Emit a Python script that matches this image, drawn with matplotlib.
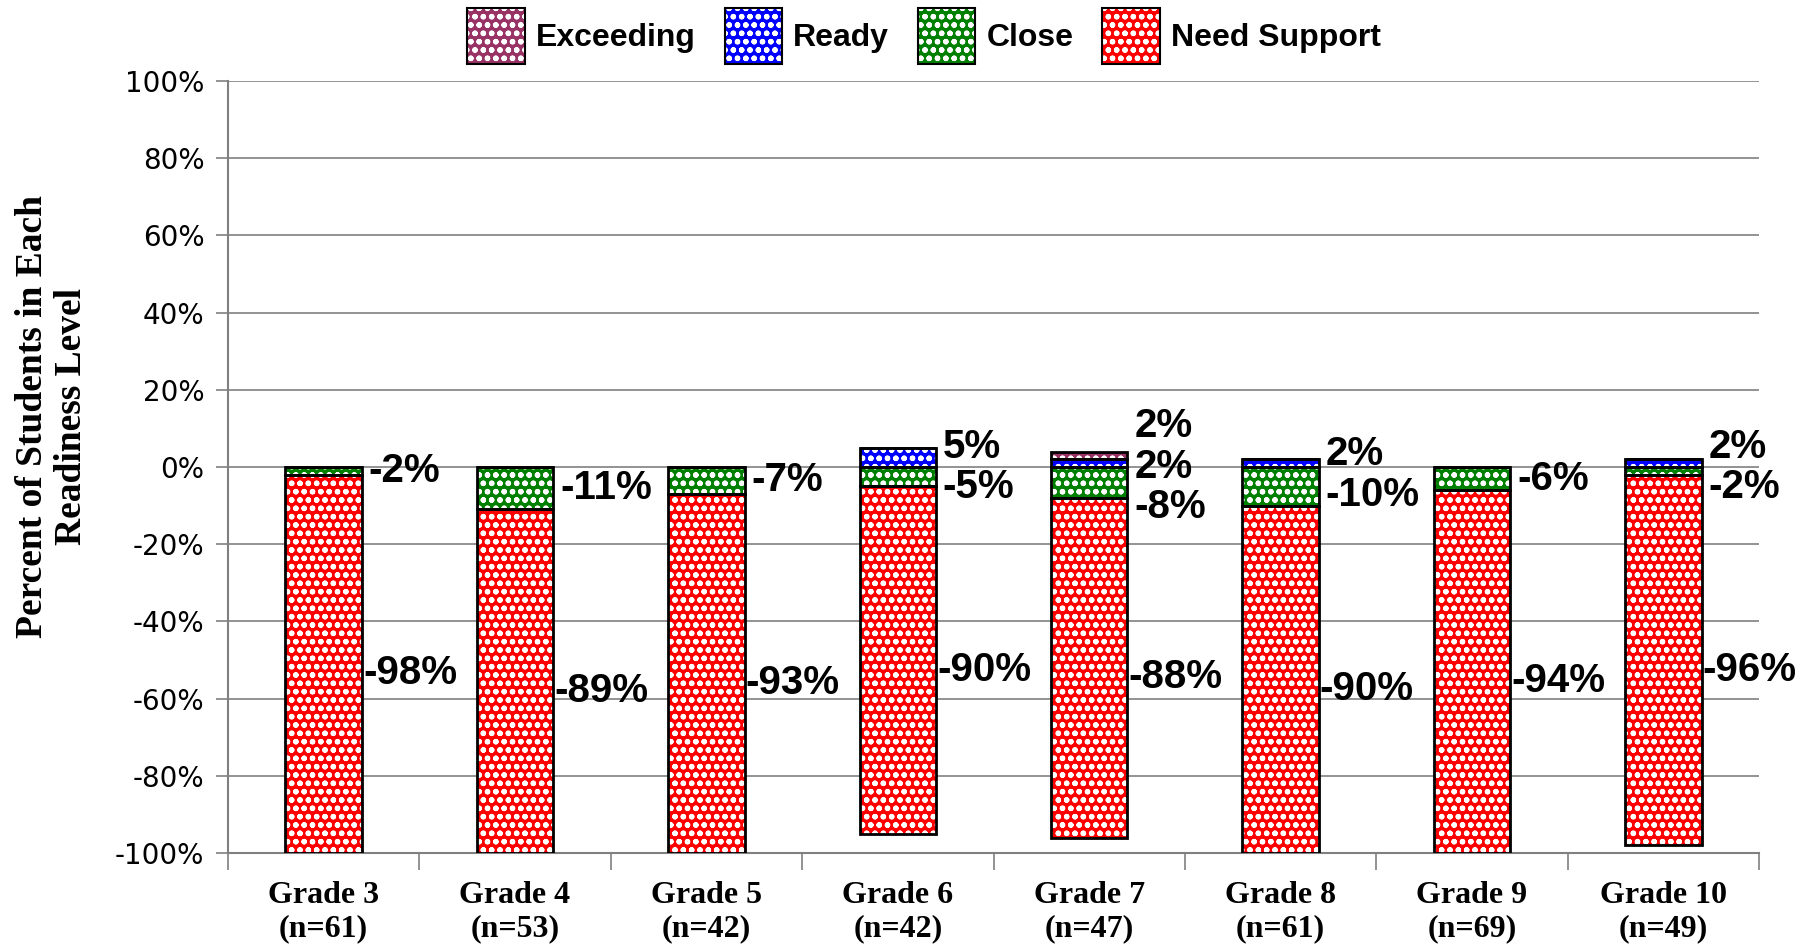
import numpy as np
import matplotlib
matplotlib.use('Agg')
import matplotlib.pyplot as plt
from matplotlib.patches import Patch
from matplotlib.legend_handler import HandlerTuple

# ---Datos---
grados = ['Grade 3', 'Grade 4', 'Grade 5', 'Grade 6', 'Grade 7', 'Grade 8', 'Grade 9', 'Grade 10']
n_alumnos = [61, 53, 42, 42, 47, 61, 69, 49]
exceeding = [0, 0, 0, 0, 2, 0, 0, 0]
ready = [0, 0, 0, 5, 2, 2, 0, 2]
close = [-2, -11, -7, -5, -8, -10, -6, -2]
need_support = [-98, -89, -93, -90, -88, -90, -94, -96]
yticks = [-100, -80, -60, -40, -20, 0, 20, 40, 60, 80, 100]

colores = {'Exceeding': '#993366', 'Ready': '#0000ff', 'Close': '#008000', 'Need Support': '#ff0000'}
patron = 'oo'
plt.rcParams['hatch.linewidth'] = 1.6

fig = plt.figure(figsize=(18.12, 9.52), dpi=100)
ax = fig.add_axes([0.1258, 0.104, 0.845, 0.811])

x = np.arange(len(grados)) + 0.5
ancho = 0.4

def barra(valores, base, nombre):
    # relleno con patron y despues el borde negro
    ax.bar(x, valores, ancho, bottom=base, color=colores[nombre], edgecolor='white',
           linewidth=0, hatch=patron, zorder=3)
    ax.bar(x, valores, ancho, bottom=base, fill=False, edgecolor='black', linewidth=2, zorder=4)

ceros = np.zeros(len(grados))
barra(exceeding, np.array(ready, float), 'Exceeding')
barra(ready, ceros, 'Ready')
barra(close, ceros, 'Close')
barra(need_support, np.array(close, float), 'Need Support')

# ---Etiquetas de datos---
fuente_dato = dict(fontsize=29, fontweight='bold', family='Liberation Sans', va='center', ha='left')
sep = 10.5
for i in range(len(grados)):
    xl = x[i] + ancho / 2 + 0.035
    grupo = []
    if exceeding[i]:
        grupo.append((ready[i] + exceeding[i] / 2, exceeding[i]))
    if ready[i]:
        grupo.append((ready[i] / 2, ready[i]))
    if close[i]:
        grupo.append((close[i] / 2, close[i]))
    media = np.mean([c for c, v in grupo])
    k = len(grupo)
    for j, (c, v) in enumerate(grupo):
        yl = media + sep * ((k - 1) / 2 - j) if k > 1 else c
        ax.text(xl, yl, '%d%%' % v, **fuente_dato, zorder=5)
    yl = close[i] + need_support[i] / 2 - 2.5
    ax.text(xl - 0.03, yl, '%d%%' % need_support[i], **fuente_dato, zorder=5)

# ---Ejes---
ax.set_xlim(0, len(grados))
ax.set_ylim(-100, 100)
ax.set_yticks(yticks)
ax.set_yticklabels(['%d%%' % t for t in yticks], fontsize=20, family='DejaVu Sans')
ax.yaxis.grid(True, color='#808080', linewidth=1.2, zorder=0)
ax.set_axisbelow(True)

ax.set_xticks(np.arange(len(grados) + 1))
ax.set_xticklabels([])
ax.set_xticks(x, minor=True)
ax.set_xticklabels(['%s\n(n=%d)' % (g, n) for g, n in zip(grados, n_alumnos)], minor=True,
                   fontsize=23, fontweight='bold', family='Liberation Serif', linespacing=1.2)
ax.tick_params(axis='x', which='major', length=12, width=1.2, color='#808080', direction='out')
ax.tick_params(axis='x', which='minor', length=0, pad=20)
ax.tick_params(axis='y', length=9, width=1.2, color='#808080', direction='out', pad=8)

for lado in ['top', 'right']:
    ax.spines[lado].set_visible(False)
for lado in ['left', 'bottom']:
    ax.spines[lado].set_color('#808080')
    ax.spines[lado].set_linewidth(1.5)

fig.text(0.0287, 0.563, 'Percent of Students in Each\nReadiness Level', rotation=90, ha='center',
         va='center', fontsize=27, fontweight='bold', family='Liberation Serif', linespacing=1.15)

# ---Leyenda---
manijas = []
for nombre in ['Exceeding', 'Ready', 'Close', 'Need Support']:
    relleno = Patch(facecolor=colores[nombre], edgecolor='white', linewidth=0, hatch=patron)
    borde = Patch(fill=False, edgecolor='black', linewidth=1.5)
    manijas.append((relleno, borde))
fig.legend(manijas, ['Exceeding', 'Ready', 'Close', 'Need Support'],
           handler_map={tuple: HandlerTuple(ndivide=1, pad=0)},
           loc='center', bbox_to_anchor=(0.51, 0.962), ncol=4, frameon=False,
           prop={'family': 'Liberation Sans', 'weight': 'bold', 'size': 23},
           handlelength=1.8, handleheight=2.35, handletextpad=0.35, columnspacing=0.9)

fig.savefig('out.png', dpi=100)
